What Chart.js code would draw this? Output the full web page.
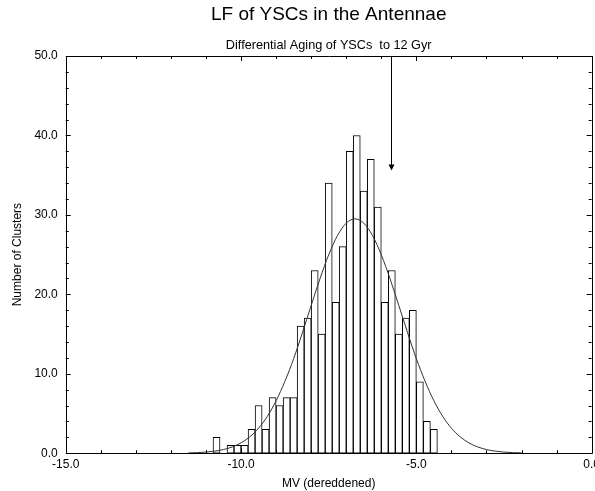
<!DOCTYPE html>
<html>
<head>
<meta charset="utf-8">
<script src="https://cdn.jsdelivr.net/npm/chart.js@4"></script>
<style>
  html, body { margin: 0; padding: 0; background: #fff; overflow: hidden; }
  #wrap { width: 604px; height: 491px; }
</style>
</head>
<body>
<div id="wrap"><canvas id="lfChart"></canvas></div>
<script>
// Histogram: bin centres (0.2 mag bins) and counts
const binCenters = [-10.7, -10.5, -10.3, -10.1, -9.9, -9.7, -9.5, -9.3, -9.1, -8.9, -8.7, -8.5,
                    -8.3, -8.1, -7.9, -7.7, -7.5, -7.3, -7.1, -6.9, -6.7, -6.5, -6.3, -6.1,
                    -5.9, -5.7, -5.5, -5.3, -5.1, -4.9, -4.7, -4.5];
const counts = [2, 0, 1, 1, 1, 3, 6, 3, 7, 6, 7, 7,
                16, 17, 23, 15, 34, 19, 26, 38, 40, 33, 37, 31,
                19, 23, 15, 17, 18, 9, 4, 3];

// Fitted curve
const curveX = [-11.5, -11.25, -11, -10.75, -10.5, -10.25, -10, -9.75, -9.5, -9.25, -9, -8.75, -8.5,
                -8.25, -8, -7.75, -7.5, -7.25, -7, -6.75, -6.5, -6.25, -6, -5.75, -5.5, -5.25,
                -5, -4.75, -4.5, -4.25, -4, -3.75, -3.5, -3.25, -3, -2.75, -2.5, -2.25, -2];
const curveY = [0.04, 0.07, 0.14, 0.26, 0.46, 0.79, 1.30, 2.06, 3.15, 4.64, 6.6, 9.04, 11.9,
                15.16, 18.6, 21.95, 24.98, 27.4, 28.96, 29.5, 28.96, 27.4, 24.98, 21.95, 18.6, 15.16,
                11.9, 9.04, 6.6, 4.64, 3.15, 2.06, 1.30, 0.79, 0.46, 0.26, 0.14, 0.07, 0.04];

const xTicks = [-15, -10, -5, 0];
const yTicks = [0, 10, 20, 30, 40, 50];

// arrow marking the 12 Gyr aging shift
const arrowX = -5.72;
const arrowTip = 35.6;

const FONT = 'Liberation Sans, Arial, Helvetica, sans-serif';

// box round the plot with inward tick marks
const frameTicks = {
    id: 'frameTicks',
    afterDraw(chart) {
        const { ctx, chartArea: a, scales: { x, y } } = chart;
        ctx.save();
        ctx.strokeStyle = '#000';
        ctx.lineWidth = 1;
        ctx.beginPath();
        ctx.rect(Math.round(a.left) + 0.5, Math.round(a.top) + 0.5,
                 Math.round(a.right - a.left), Math.round(a.bottom - a.top));
        for (let v = x.min; v <= x.max; v += 1) {
            const px = Math.round(x.getPixelForValue(v)) + 0.5;
            const len = v % 5 === 0 ? 5 : 3;
            ctx.moveTo(px, a.bottom); ctx.lineTo(px, a.bottom - len);
            ctx.moveTo(px, a.top); ctx.lineTo(px, a.top + len);
        }
        for (let v = y.min; v <= y.max; v += 2) {
            const py = Math.round(y.getPixelForValue(v)) + 0.5;
            const len = v % 10 === 0 ? 5 : 3;
            ctx.moveTo(a.left, py); ctx.lineTo(a.left + len, py);
            ctx.moveTo(a.right, py); ctx.lineTo(a.right - len, py);
        }
        ctx.stroke();
        ctx.restore();
    }
};

const arrow = {
    id: 'arrow',
    afterDatasetsDraw(chart) {
        const { ctx, scales: { x, y } } = chart;
        const px = Math.round(x.getPixelForValue(arrowX)) + 0.5;
        const top = y.getPixelForValue(y.max);
        const tip = y.getPixelForValue(arrowTip);
        ctx.save();
        ctx.strokeStyle = '#000';
        ctx.fillStyle = '#000';
        ctx.lineWidth = 1;
        ctx.beginPath();
        ctx.moveTo(px, top);
        ctx.lineTo(px, tip - 5);
        ctx.stroke();
        ctx.beginPath();
        ctx.moveTo(px - 3, tip - 6);
        ctx.lineTo(px + 3, tip - 6);
        ctx.lineTo(px, tip);
        ctx.closePath();
        ctx.fill();
        ctx.restore();
    }
};

new Chart(document.getElementById('lfChart'), {
    type: 'bar',
    data: {
        datasets: [{
            type: 'line',
            data: curveX.map((v, i) => ({ x: v, y: curveY[i] })),
            borderColor: '#333',
            borderWidth: 1,
            pointRadius: 0,
            fill: false,
            cubicInterpolationMode: 'monotone',
            order: 0
        }, {
            type: 'bar',
            data: binCenters.map((v, i) => ({ x: v, y: counts[i] })),
            backgroundColor: '#fff',
            borderColor: '#000',
            borderWidth: 1,
            borderSkipped: false,
            barPercentage: 1,
            categoryPercentage: 1,
            order: 1
        }]
    },
    options: {
        responsive: true,
        maintainAspectRatio: false,
        animation: false,
        layout: { padding: 0 },
        scales: {
            x: {
                type: 'linear',
                min: -15,
                max: 0,
                offset: false,
                afterBuildTicks: s => { s.ticks = xTicks.map(v => ({ value: v })); },
                ticks: {
                    color: '#000',
                    padding: 4,
                    maxRotation: 0,
                    font: { family: FONT, size: 12 },
                    callback: v => v.toFixed(1)
                },
                grid: { display: false, drawTicks: false },
                border: { display: false },
                title: {
                    display: true,
                    text: 'MV (dereddened)',
                    color: '#000',
                    font: { family: FONT, size: 12 },
                    padding: { top: 1, bottom: 0 }
                }
            },
            y: {
                min: 0,
                max: 50,
                afterBuildTicks: s => { s.ticks = yTicks.map(v => ({ value: v })); },
                ticks: {
                    color: '#000',
                    padding: 8,
                    font: { family: FONT, size: 12 },
                    callback: v => v.toFixed(1)
                },
                grid: { display: false, drawTicks: false },
                border: { display: false },
                title: {
                    display: true,
                    text: 'Number of Clusters',
                    color: '#000',
                    font: { family: FONT, size: 12 },
                    padding: { top: 10, bottom: 2 }
                }
            }
        },
        plugins: {
            legend: { display: false },
            tooltip: { enabled: false },
            title: {
                display: true,
                text: 'LF of YSCs in the Antennae',
                fullSize: false,
                color: '#000',
                font: { family: FONT, size: 19, weight: 'normal' },
                padding: { top: 3, bottom: 8 }
            },
            subtitle: {
                display: true,
                text: 'Differential Aging of YSCs  to 12 Gyr',
                fullSize: false,
                color: '#000',
                font: { family: FONT, size: 12.7 },
                padding: { top: 4, bottom: 3 }
            }
        }
    },
    plugins: [frameTicks, arrow]
});
</script>
</body>
</html>
